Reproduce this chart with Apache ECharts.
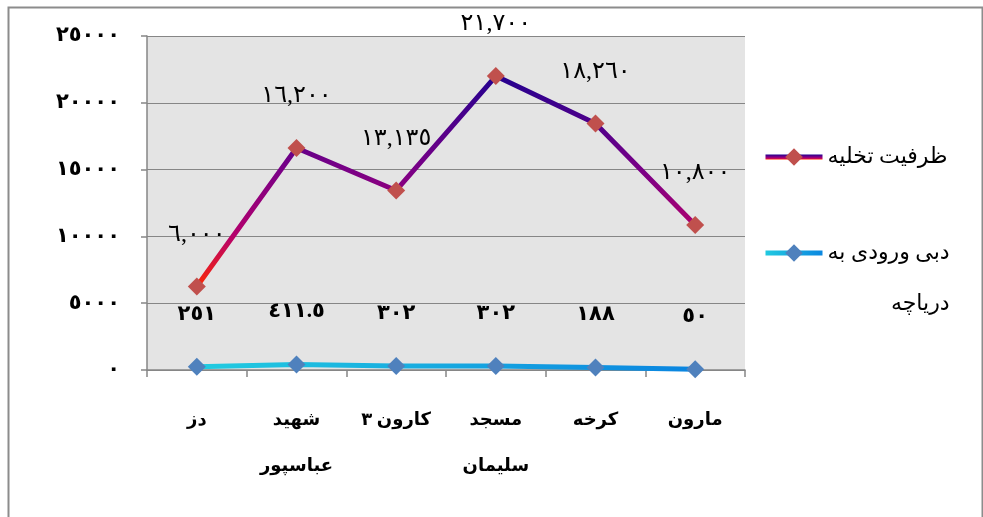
<!DOCTYPE html>
<html>
<head>
<meta charset="utf-8">
<script src="https://cdn.jsdelivr.net/npm/echarts@6/dist/echarts.min.js"></script>
<style>
html,body{margin:0;padding:0;background:#fff;}
#c{width:983px;height:517px;}
</style>
</head>
<body>
<div id="c"></div>
<script>
var categories = ['دز', 'شهید\nعباسپور', 'کارون ۳', 'مسجد\nسلیمان', 'کرخه', 'مارون'];
var seriesNames = ['ظرفیت تخلیه', 'دبی ورودی به دریاچه'];
var capacity = [6000, 16200, 13135, 21700, 18260, 10800];
var inflow = [251, 411.5, 302, 302, 188, 50];
var yTicks = [0, 5000, 10000, 15000, 20000, 25000];

var AR = '٠١٢٣٤٥٦٧٨٩';
function toAr(s) { return String(s).replace(/[0-9]/g, function (d) { return AR[+d]; }); }
var FONT = "'Liberation Serif', 'DejaVu Sans', serif";

var chart = echarts.init(document.getElementById('c'));
chart.setOption({
  animation: false,
  textStyle: { fontFamily: FONT },
  graphic: [{
    type: 'rect', left: 6, top: 5, z: 100, silent: true,
    shape: { width: 974, height: 530 },
    style: { fill: 'none', stroke: '#8c8c8c', lineWidth: 2 }
  }],
  grid: {
    left: 147, top: 36, right: 238, bottom: 147,
    show: true, backgroundColor: '#e4e4e4', borderWidth: 0
  },
  legend: {
    orient: 'vertical', left: 758, top: 141, itemGap: 23,
    itemWidth: 57, itemHeight: 22,
    data: seriesNames,
    lineStyle: { width: 5 },
    formatter: function (name) {
      if (name === seriesNames[1]) return '{a| }\n{a|دبی ورودی به}\n{a|دریاچه}';
      return '{a|' + name + '}';
    },
    textStyle: {
      fontFamily: FONT, fontSize: 22, color: '#000',
      rich: { a: { fontFamily: FONT, fontSize: 22, lineHeight: 51, align: 'right', color: '#000' } }
    }
  },
  xAxis: {
    type: 'category', data: categories, boundaryGap: true,
    axisLine: { lineStyle: { color: '#868686', width: 1.5 } },
    axisTick: { show: true, length: 7, lineStyle: { color: '#868686', width: 1.5 } },
    axisLabel: { margin: 27, fontSize: 18, fontWeight: 'bold', color: '#000', lineHeight: 46, fontFamily: FONT }
  },
  yAxis: {
    type: 'value', min: 0, max: 25000, interval: 5000,
    axisLine: { show: true, lineStyle: { color: '#868686', width: 1.5 } },
    axisTick: { show: true, length: 6, lineStyle: { color: '#868686', width: 1.5 } },
    splitLine: { lineStyle: { color: '#868686', width: 1.2 } },
    axisLabel: {
      margin: 27, fontSize: 21, fontWeight: 'bold', color: '#000', fontFamily: FONT,
      formatter: function (v) { return yTicks.indexOf(v) >= 0 ? toAr(v) : ''; }
    }
  },
  series: [{
    name: seriesNames[1], type: 'line', data: inflow, stack: 'total',
    symbol: 'diamond', symbolSize: 18,
    itemStyle: { color: '#4f81bd' },
    lineStyle: {
      width: 5,
      color: new echarts.graphic.LinearGradient(0, 0, 1, 0, [
        { offset: 0, color: '#22cce0' },
        { offset: 1, color: '#0a84e0' }
      ])
    },
    label: {
      show: true, position: 'top', distance: 33, fontSize: 21, fontWeight: 'bold', color: '#000', fontFamily: FONT,
      formatter: function (p) { return toAr(p.value); }
    },
    z: 2
  }, {
    name: seriesNames[0], type: 'line', data: capacity, stack: 'total',
    symbol: 'diamond', symbolSize: 18,
    itemStyle: { color: '#c0504d' },
    lineStyle: {
      width: 5,
      color: new echarts.graphic.LinearGradient(0, 0, 0, 1, [
        { offset: 0, color: '#22008f' },
        { offset: 0.45, color: '#7a0086' },
        { offset: 0.75, color: '#b4006c' },
        { offset: 1, color: '#ff2a00' }
      ])
    },
    label: {
      show: true, position: 'top', distance: 31, fontSize: 24, color: '#000', fontFamily: FONT,
      formatter: function (p) { return toAr(p.value.toLocaleString('en-US')); }
    },
    z: 3
  }]
});
</script>
</body>
</html>
